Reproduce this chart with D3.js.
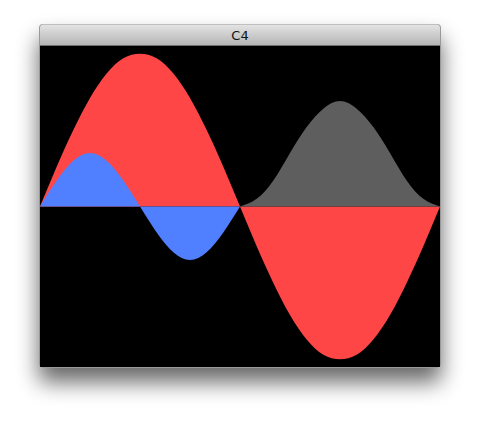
<!DOCTYPE html>
<html>
<head>
<meta charset="utf-8">
<script src="https://cdn.jsdelivr.net/npm/d3@7"></script>
<style>
  html, body { margin: 0; padding: 0; background: #fff; }
  svg { display: block; }
</style>
</head>
<body>
<svg id="chart" width="480" height="422"></svg>
<script>
var redAngles = [0, 15, 30, 45, 60, 75, 90, 105, 120, 135, 150, 165, 180,
                 195, 210, 225, 240, 255, 270, 285, 300, 315, 330, 345, 360];
var redValues = [0, 0.26, 0.5, 0.71, 0.87, 0.97, 1, 0.97, 0.87, 0.71, 0.5, 0.26, 0,
                 -0.26, -0.5, -0.71, -0.87, -0.97, -1, -0.97, -0.87, -0.71, -0.5, -0.26, 0];

var blueAngles = [0, 15, 30, 45, 60, 75, 90, 105, 120, 135, 150, 165, 180];
var blueValues = [0, 0.17, 0.3, 0.35, 0.3, 0.17, 0, -0.17, -0.3, -0.35, -0.3, -0.17, 0];

var grayAngles = [180, 195, 210, 225, 240, 255, 270, 285, 300, 315, 330, 345, 360];
var grayValues = [0, 0.05, 0.17, 0.35, 0.52, 0.64, 0.69, 0.64, 0.52, 0.35, 0.17, 0.05, 0];

var title = "C4";

var svg = d3.select("#chart");

// window frame
var win = { x: 40, y: 24, w: 400, titleH: 22, plotH: 321 };

var defs = svg.append("defs");
var shadow = defs.append("filter").attr("id", "shadow")
    .attr("x", "-25%").attr("y", "-25%").attr("width", "150%").attr("height", "160%");
shadow.append("feGaussianBlur").attr("in", "SourceAlpha").attr("stdDeviation", 11);
shadow.append("feOffset").attr("dy", 14).attr("result", "blur");
shadow.append("feComponentTransfer").append("feFuncA").attr("type", "linear").attr("slope", 0.6);
var merge = shadow.append("feMerge");
merge.append("feMergeNode");
merge.append("feMergeNode").attr("in", "SourceGraphic");

var grad = defs.append("linearGradient").attr("id", "titlebar")
    .attr("x1", 0).attr("y1", 0).attr("x2", 0).attr("y2", 1);
grad.append("stop").attr("offset", "0%").attr("stop-color", "#e4e4e4");
grad.append("stop").attr("offset", "100%").attr("stop-color", "#a9a9a9");

var frame = svg.append("g").attr("filter", "url(#shadow)");

frame.append("rect")
    .attr("x", win.x - 1).attr("y", win.y)
    .attr("width", win.w + 2).attr("height", win.titleH + win.plotH + 1)
    .attr("rx", 4)
    .attr("fill", "#9a9a9a");

frame.append("rect")
    .attr("x", win.x).attr("y", win.y + 0.5)
    .attr("width", win.w).attr("height", win.titleH + 4)
    .attr("rx", 3.5)
    .attr("fill", "url(#titlebar)");

frame.append("rect")
    .attr("x", win.x).attr("y", win.y + win.titleH)
    .attr("width", win.w).attr("height", win.plotH)
    .attr("fill", "#000");

svg.append("line")
    .attr("x1", win.x).attr("x2", win.x + win.w)
    .attr("y1", win.y + win.titleH - 0.5).attr("y2", win.y + win.titleH - 0.5)
    .attr("stroke", "#6e6e6e");

svg.append("text")
    .attr("x", win.x + win.w / 2)
    .attr("y", win.y + 16)
    .attr("text-anchor", "middle")
    .attr("font-family", "DejaVu Sans, sans-serif")
    .attr("font-size", 13)
    .attr("fill", "#111")
    .text(title);

// plot
var plotTop = win.y + win.titleH;
var x = d3.scaleLinear().domain([0, 360]).range([win.x, win.x + win.w]);
var y = d3.scaleLinear().domain([-1.05, 1.05]).range([plotTop + win.plotH, plotTop]);

var plot = svg.append("g");

function drawArea(angles, values, color) {
    var pts = angles.map(function (a, i) { return [a, values[i]]; });
    var area = d3.area()
        .x(function (d) { return x(d[0]); })
        .y0(y(0))
        .y1(function (d) { return y(d[1]); })
        .curve(d3.curveNatural);
    plot.append("path")
        .datum(pts)
        .attr("d", area)
        .attr("fill", color);
}

drawArea(redAngles, redValues, "#ff4646");
drawArea(blueAngles, blueValues, "#5080ff");
drawArea(grayAngles, grayValues, "#5e5e5e");
</script>
</body>
</html>
